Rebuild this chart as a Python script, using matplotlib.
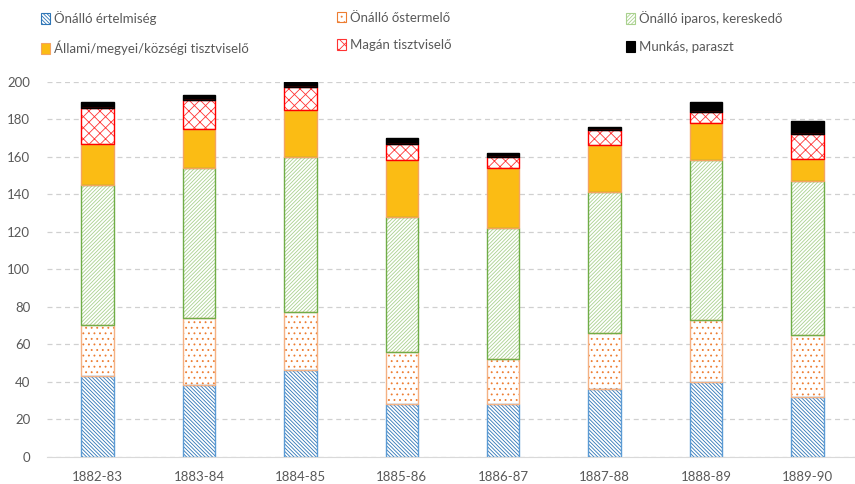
import matplotlib.pyplot as plt
import matplotlib.patches as mpatches
import numpy as np

plt.rcParams['font.family'] = ['Lato', 'DejaVu Sans']
plt.rcParams['hatch.linewidth'] = 0.6

years = ["1882-83", "1883-84", "1884-85", "1885-86", "1886-87", "1887-88", "1888-89", "1889-90"]
ertelmiseg = [43, 38, 46, 28, 28, 36, 40, 32]
ostermelo = [27, 36, 31, 28, 24, 30, 33, 33]
iparos = [75, 80, 83, 72, 70, 75, 85, 82]
allami = [22, 21, 25, 30, 32, 25, 20, 12]
magan = [19, 15, 12, 9, 6, 8, 6, 13]
munkas = [3, 3, 3, 3, 2, 2, 5, 7]

labels = ["Önálló értelmiség", "Önálló őstermelő", "Önálló iparos, kereskedő",
          "Állami/megyei/községi tisztviselő", "Magán tisztviselő", "Munkás, paraszt"]

# (face, hatch colour, hatch, border)
styles = [
    ("white", "#2E75B6", "\\" * 9, "#5B9BD5"),
    ("white", "#ED7D31", "...", "#F4B183"),
    ("white", "#A9D18E", "/" * 9, "#70AD47"),
    ("#FBBC14", "#FBBC14", None, "#F4A460"),
    ("white", "#FF3333", "xxx", "#FF0000"),
    ("black", "black", None, "black"),
]

series = [ertelmiseg, ostermelo, iparos, allami, magan, munkas]
txt = "#595959"

fig = plt.figure(figsize=(8.55, 4.84), dpi=100)
ax = fig.add_axes([47 / 855, 1 - 456.7 / 484, 1 - 47 / 855, (456.7 - 81.7) / 484])

x = np.arange(len(years))
w = 0.32
bottom = np.zeros(len(years))
handles = []
for vals, (face, hcol, hatch, border), lab in zip(series, styles, labels):
    vals = np.array(vals, dtype=float)
    ax.bar(x, vals, w, bottom=bottom, color=face, edgecolor=hcol, hatch=hatch,
           linewidth=0, zorder=3)
    ax.bar(x, vals, w, bottom=bottom, fill=False, edgecolor=border, linewidth=1.0, zorder=4)
    bottom += vals
    h = mpatches.Patch(facecolor=face, edgecolor=hcol, hatch=hatch, linewidth=0.8)
    h.set_edgecolor(border if hatch is None else hcol)
    handles.append(h)

ax.set_xlim(-0.5, 7.47)
ax.set_ylim(0, 200)
ax.set_yticks(range(0, 201, 20))
ax.set_xticks(x)
ax.set_xticklabels(years)
ax.tick_params(axis='both', length=0, colors=txt, labelsize=9.5)
ax.tick_params(axis='x', pad=10)
ax.tick_params(axis='y', pad=12)
ax.yaxis.grid(True, color="#D0D0D0", linestyle=(0, (4, 3)), linewidth=0.9, zorder=0)
for s in ['top', 'right', 'left']:
    ax.spines[s].set_visible(False)
ax.spines['bottom'].set_color("#D9D9D9")
ax.set_axisbelow(True)

# legend, three columns placed by hand
col_x = [30 / 855, 326 / 855, 615 / 855]
for i in range(3):
    hs = [handles[i], handles[i + 3]]
    ls = [labels[i], labels[i + 3]]
    leg = fig.legend(hs, ls, loc='upper left', bbox_to_anchor=(col_x[i], 0.998),
                     frameon=False, fontsize=9.5, handlelength=0.75, handleheight=0.9,
                     handletextpad=0.3, labelspacing=1.15, borderaxespad=0.4)
    for t in leg.get_texts():
        t.set_color(txt)

fig.savefig("out.png", dpi=100)
